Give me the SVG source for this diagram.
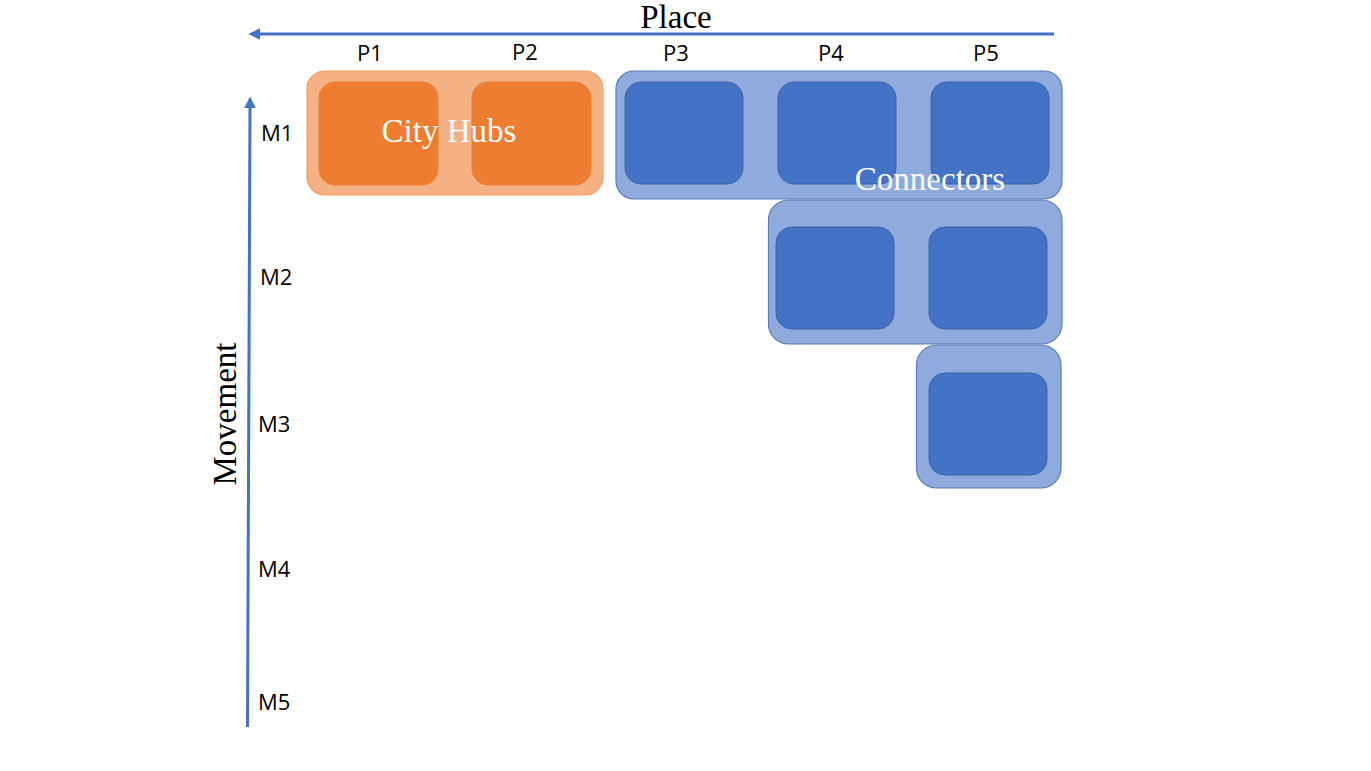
<svg xmlns="http://www.w3.org/2000/svg" width="1371" height="771" viewBox="0 0 1371 771">
<style>
.og{fill:#F4B183;stroke:#F19F60;stroke-width:1.2}
.oi{fill:#ED7D31;stroke:#ED7D31;stroke-width:1}
.bg{fill:#8FAADC;stroke:#5B7DB8;stroke-width:1.2}
.bi{fill:#4472C4;stroke:#3A62AA;stroke-width:1}
.lbl{font-family:"Open Sans","Liberation Sans",sans-serif;font-size:22px;fill:#000}
.ser{font-family:"Liberation Serif",serif;font-size:33px}
.ax{stroke:#4472C4;stroke-width:3;fill:none}
</style>
<defs>
<marker id="ah" viewBox="0 0 10 10" refX="2" refY="5" markerWidth="4" markerHeight="4" orient="auto-start-reverse" markerUnits="strokeWidth">
<path d="M0,0 L10,5 L0,10 z" fill="#4472C4"/>
</marker>
</defs>
<rect width="1371" height="771" fill="#fff"/>
<g id="connectors">
<line class="ax" x1="1054" y1="34" x2="258" y2="34" marker-end="url(#ah)"/>
<line class="ax" x1="247.5" y1="727" x2="250" y2="106" marker-end="url(#ah)"/>
</g>
<g id="axis-labels">
<text class="ser" x="676" y="28" text-anchor="middle">Place</text>
<text class="ser" transform="translate(236,414) rotate(-90)" text-anchor="middle" font-size="34">Movement</text>
<text class="lbl" x="370" y="61" text-anchor="middle">P1</text>
<text class="lbl" x="525" y="60" text-anchor="middle">P2</text>
<text class="lbl" x="676" y="61" text-anchor="middle">P3</text>
<text class="lbl" x="831" y="61" text-anchor="middle">P4</text>
<text class="lbl" x="986" y="61" text-anchor="middle">P5</text>
<text class="lbl" x="261" y="141">M1</text>
<text class="lbl" x="260" y="285">M2</text>
<text class="lbl" x="258" y="432">M3</text>
<text class="lbl" x="258" y="577">M4</text>
<text class="lbl" x="258" y="710">M5</text>
</g>
<g id="city-hubs">
<rect class="og" x="307" y="71" width="296" height="124" rx="18"/>
<rect class="oi" x="319" y="82" width="119" height="103" rx="16"/>
<rect class="oi" x="472" y="82" width="119" height="103" rx="16"/>
<text class="ser" x="449" y="142" text-anchor="middle" fill="#fff" font-size="32">City Hubs</text>
</g>
<g id="connectors-m2">
<rect class="bg" x="768.5" y="200" width="293.5" height="144" rx="20"/>
<rect class="bi" x="776" y="227" width="118" height="102" rx="16"/>
<rect class="bi" x="929" y="227" width="118" height="102" rx="16"/>
</g>
<g id="connectors-m3">
<rect class="bg" x="916.5" y="345" width="144.5" height="143" rx="20"/>
<rect class="bi" x="929" y="373" width="118" height="102" rx="16"/>
</g>
<g id="connectors-m1">
<rect class="bg" x="616" y="71" width="446" height="128" rx="18"/>
<rect class="bi" x="625" y="82" width="118" height="102" rx="16"/>
<rect class="bi" x="778" y="82" width="118" height="102" rx="16"/>
<rect class="bi" x="931" y="82" width="118" height="102" rx="16"/>
<text class="ser" x="930" y="190" text-anchor="middle" fill="#fff" font-size="33">Connectors</text>
</g>
</svg>
